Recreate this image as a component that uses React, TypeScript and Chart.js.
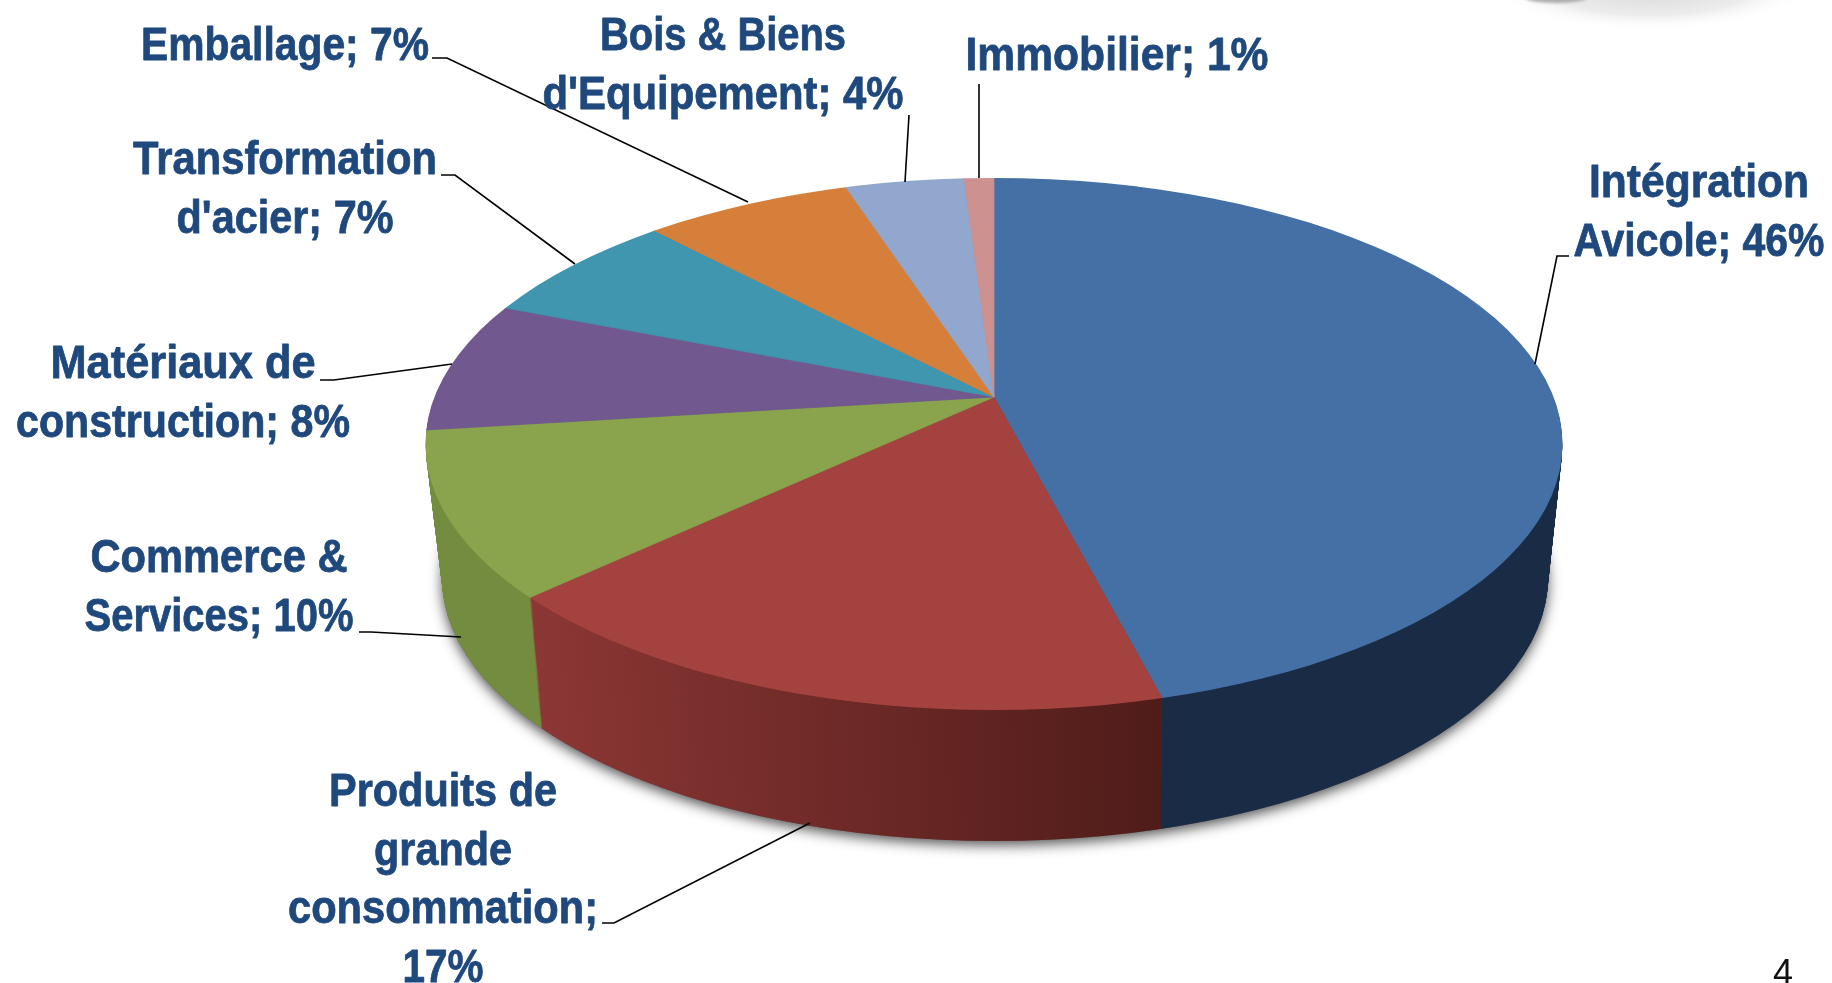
import React, { useEffect, useRef } from "react";
import { Chart, registerables } from "chart.js";

Chart.register(...registerables);

const categories = [
  "Intégration Avicole",
  "Produits de grande consommation",
  "Commerce & Services",
  "Matériaux de construction",
  "Transformation d'acier",
  "Emballage",
  "Bois & Biens d'Equipement",
  "Immobilier",
];
const shares = [46, 17, 10, 8, 7, 7, 4, 1];
const topColors = ["#4470A5", "#A44240", "#89A44D", "#71588F", "#4095AF", "#D67F3A", "#92A7CD", "#CD9190"];
const wallStart = ["#1C3049", "#8C3735", "#748C40", "#5A466F", "#2F6F82", "#A0602B", "#6C7C99", "#996C6B"];
const wallEnd = ["#1A2C45", "#4F1C19", "#748C40", "#5A466F", "#2F6F82", "#A0602B", "#6C7C99", "#996C6B"];
const labelLines = [
  ["Intégration", "Avicole; 46%"],
  ["Produits de", "grande", "consommation;", "17%"],
  ["Commerce &", "Services; 10%"],
  ["Matériaux de", "construction; 8%"],
  ["Transformation", "d'acier; 7%"],
  ["Emballage; 7%"],
  ["Bois & Biens", "d'Equipement; 4%"],
  ["Immobilier; 1%"],
];
const labelLineWidths = [
  [220, 251],
  [228, 138, 310, 81],
  [257, 269],
  [265, 334],
  [304, 217],
  [288],
  [246, 361],
  [303],
];
const labelCenterX = [1699, 443, 219, 183, 285, 285, 723, 1117];
const labelFirstBaseline = [197, 806, 572, 378, 174, 60, 50, 70];
const leaderPaths = [
  [[1569, 256], [1557, 256], [1535, 364]],
  [[602, 923], [614, 923], [810, 823]],
  [[359, 632], [371, 632], [461, 637]],
  [[320, 380], [334, 380], [452, 364]],
  [[441, 175], [455, 175], [575, 264]],
  [[432, 58], [447, 58], [748, 202]],
  [[909, 115], [905, 182]],
  [[979, 84], [979, 178]],
];

const TOP = { cx: 994, cy: 444, rx: 568.5, ry: 266, apex: 397 };
const BOTTOM = { cx: 995, cy: 578, rx: 553, ry: 263, apex: 532 };
const FLATTEN = 0.46;
const TEXT_COLOR = "#1F497D";
const LABEL_FONT = 'bold 47px "Liberation Sans", sans-serif';
const LINE_STEP = 58.5;

type Frame = typeof TOP;

const lerpFrame = (t: number): Frame => ({
  cx: TOP.cx + (BOTTOM.cx - TOP.cx) * t,
  cy: TOP.cy + (BOTTOM.cy - TOP.cy) * t,
  rx: TOP.rx + (BOTTOM.rx - TOP.rx) * t,
  ry: TOP.ry + (BOTTOM.ry - TOP.ry) * t,
  apex: TOP.apex + (BOTTOM.apex - TOP.apex) * t,
});

function drawLayer(chart: any, f: Frame, styleFor: (i: number) => any) {
  const ctx: CanvasRenderingContext2D = chart.ctx;
  const arcs: any[] = chart.getDatasetMeta(0).data;
  ctx.save();
  ctx.beginPath();
  ctx.ellipse(f.cx, f.cy, f.rx, f.ry, 0, 0, Math.PI * 2);
  ctx.clip();
  const sx = f.rx / TOP.rx;
  ctx.translate(f.cx, f.apex);
  ctx.scale(sx, FLATTEN * sx);
  ctx.translate(-arcs[0].x, -arcs[0].y);
  arcs.forEach((arc, i) => {
    const original = arc.options;
    const patched = Object.create(original);
    const over = styleFor(i);
    Object.defineProperty(patched, "backgroundColor", { value: over.fill });
    Object.defineProperty(patched, "borderColor", { value: over.stroke });
    Object.defineProperty(patched, "borderWidth", { value: over.width });
    arc.options = patched;
    arc.draw(ctx);
    arc.options = original;
  });
  ctx.restore();
}

const pie3d = {
  id: "pie3d",
  beforeDatasetsDraw(chart: any) {
    const ctx: CanvasRenderingContext2D = chart.ctx;
    const arcs: any[] = chart.getDatasetMeta(0).data;

    // soft blob cut by the top edge of the slide
    ctx.save();
    ctx.translate(1650, -14);
    ctx.scale(1, 0.28);
    const blob = ctx.createRadialGradient(0, 0, 20, 0, 0, 160);
    blob.addColorStop(0, "rgba(215,215,215,0.95)");
    blob.addColorStop(0.6, "rgba(228,228,228,0.7)");
    blob.addColorStop(1, "rgba(255,255,255,0)");
    ctx.fillStyle = blob;
    ctx.beginPath();
    ctx.arc(0, 0, 160, 0, Math.PI * 2);
    ctx.fill();
    ctx.restore();
    ctx.save();
    ctx.fillStyle = "rgba(165,165,165,0.9)";
    ctx.filter = "blur(1.5px)";
    ctx.beginPath();
    ctx.ellipse(1556, -3, 32, 6, 0, 0, Math.PI * 2);
    ctx.fill();
    ctx.restore();

    // shadow under the base
    ctx.save();
    ctx.shadowColor = "rgba(50,50,50,0.85)";
    ctx.shadowBlur = 13;
    ctx.shadowOffsetY = 4;
    ctx.fillStyle = "#666";
    ctx.beginPath();
    ctx.ellipse(BOTTOM.cx, BOTTOM.cy, BOTTOM.rx, BOTTOM.ry, 0, 0, Math.PI * 2);
    ctx.fill();
    ctx.restore();

    // wall
    const x0 = arcs[0].x;
    const grads = arcs.map((_, i) => {
      const g = ctx.createLinearGradient(x0 - 470, 0, x0 + 170, 0);
      g.addColorStop(0, wallStart[i]);
      g.addColorStop(1, wallEnd[i]);
      return g;
    });
    const steps = 132;
    for (let s = steps; s >= 1; s--) {
      const f = lerpFrame(s / steps);
      drawLayer(chart, f, (i) => ({ fill: grads[i], stroke: grads[i], width: 1 }));
    }

    // top face
    drawLayer(chart, lerpFrame(0), (i) => ({ fill: topColors[i], stroke: topColors[i], width: 1 }));

    // leaders
    ctx.save();
    ctx.strokeStyle = "#000";
    ctx.lineWidth = 1.6;
    leaderPaths.forEach((path) => {
      ctx.beginPath();
      path.forEach(([x, y], i) => (i ? ctx.lineTo(x, y) : ctx.moveTo(x, y)));
      ctx.stroke();
    });
    ctx.restore();

    // labels
    ctx.save();
    ctx.fillStyle = TEXT_COLOR;
    ctx.strokeStyle = TEXT_COLOR;
    ctx.lineWidth = 0.8;
    ctx.lineJoin = "round";
    ctx.font = LABEL_FONT;
    ctx.textAlign = "center";
    ctx.textBaseline = "alphabetic";
    labelLines.forEach((lines, i) => {
      lines.forEach((line, j) => {
        const squeeze = labelLineWidths[i][j] / ctx.measureText(line).width;
        ctx.save();
        ctx.translate(labelCenterX[i], labelFirstBaseline[i] + j * LINE_STEP);
        ctx.scale(squeeze, 1);
        ctx.fillText(line, 0, 0);
        ctx.strokeText(line, 0, 0);
        ctx.restore();
      });
    });
    ctx.fillStyle = "#111";
    ctx.font = '36px "Liberation Sans", sans-serif';
    ctx.fillText("4", 1783, 985);
    ctx.restore();
    return false;
  },
};

export default function App() {
  const ref = useRef<HTMLCanvasElement>(null);
  useEffect(() => {
    if (!ref.current) return;
    const chart = new Chart(ref.current, {
      type: "pie",
      data: {
        labels: categories,
        datasets: [{ data: shares, backgroundColor: topColors, radius: 900, borderWidth: 0 } as any],
      },
      options: {
        responsive: false,
        animation: false,
        layout: { padding: { left: 156, right: 0, top: 0, bottom: 189 } },
        plugins: { legend: { display: false }, tooltip: { enabled: false } },
      },
      plugins: [pie3d as any],
    });
    return () => chart.destroy();
  }, []);
  return (
    <canvas
      ref={ref}
      width={1832}
      height={983}
      style={{ position: "fixed", left: 0, top: 0, width: 1832, height: 983, background: "#fff" }}
    />
  );
}
